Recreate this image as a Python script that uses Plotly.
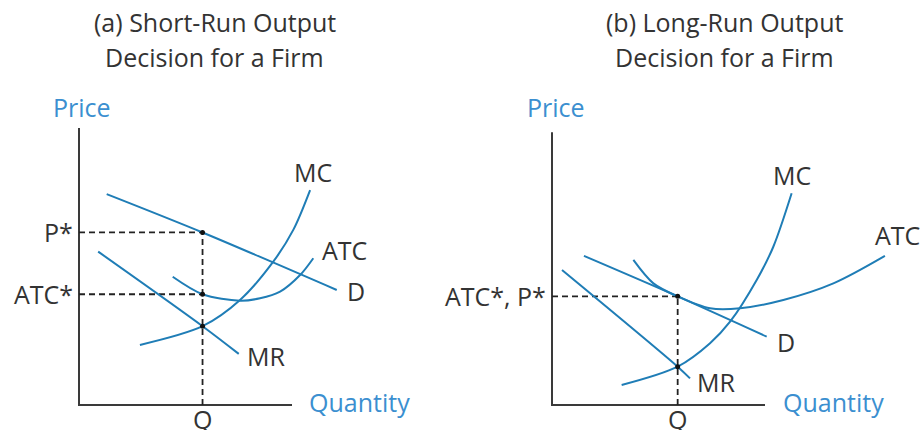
import plotly.graph_objects as go

# ---- Panel (a): short-run output decision ----
a_q = 5.8          # profit-maximising quantity
a_price = 8.1      # P*
a_atc = 5.2        # ATC*
a_mr = 3.7         # MR = MC

a_d_x = [1.3, 5.8, 12.1]
a_d_y = [9.9, 8.1, 5.4]
a_mr_x = [0.9, 5.8, 7.5]
a_mr_y = [7.2, 3.7, 2.4]
a_mc_x = [2.86, 5.8, 7.56, 9.12, 10.06, 10.85]
a_mc_y = [2.82, 3.7, 4.93, 6.73, 8.22, 10.09]
a_atc_x = [4.4, 5.8, 7.56, 8.5, 9.44, 10.38, 11.0]
a_atc_y = [6.02, 5.2, 4.9, 5.01, 5.32, 6.1, 6.89]

# ---- Panel (b): long-run output decision ----
b_q = 5.9
b_price = 5.1      # ATC* = P*
b_mr = 1.8

b_d_x = [1.5, 5.9, 10.08]
b_d_y = [7.0, 5.1, 3.21]
b_mr_x = [0.47, 5.9, 6.48]
b_mr_y = [6.34, 1.8, 1.25]
b_mc_x = [3.27, 5.9, 7.42, 8.36, 9.61, 10.39, 11.25]
b_mc_y = [0.94, 1.8, 2.9, 3.91, 5.87, 7.43, 9.94]
b_atc_x = [3.82, 4.76, 5.9, 7.42, 8.83, 10.86, 13.21, 15.63]
b_atc_y = [6.81, 5.71, 5.1, 4.54, 4.54, 4.93, 5.71, 7.0]

a_axis_len = (10.0, 13.0)
b_axis_len = (10.0, 12.8)

CURVE = "#1f7db6"
AXIS_TXT = "#3b8fd0"
TXT = "#333333"
FONT = "Open Sans"
LBL = 25

fig = go.Figure()


def add_panel(xa, ya, curves, q, dash_levels, dots, axis_len):
    xr, yr = ("x", "y") if xa == "x" else ("x2", "y2")
    # axes
    fig.add_trace(go.Scatter(x=[0, 0, axis_len[0]], y=[axis_len[1], 0, 0],
                             mode="lines", line=dict(color="#3a3a3a", width=2),
                             xaxis=xr, yaxis=yr, hoverinfo="skip"))
    # dashed guides
    top = max(dash_levels)
    guide = dict(color="#222222", width=1.8, dash="6px,4px")
    fig.add_trace(go.Scatter(x=[q, q], y=[0, top], mode="lines", line=guide,
                             xaxis=xr, yaxis=yr, hoverinfo="skip"))
    for lvl in dash_levels:
        fig.add_trace(go.Scatter(x=[0, q], y=[lvl, lvl], mode="lines", line=guide,
                                 xaxis=xr, yaxis=yr, hoverinfo="skip"))
    for cx, cy in curves:
        fig.add_trace(go.Scatter(x=cx, y=cy, mode="lines",
                                 line=dict(color=CURVE, width=2, shape="spline", smoothing=0.9),
                                 xaxis=xr, yaxis=yr, hoverinfo="skip"))
    fig.add_trace(go.Scatter(x=[q] * len(dots), y=dots, mode="markers",
                             marker=dict(color="#111111", size=5),
                             xaxis=xr, yaxis=yr, hoverinfo="skip"))


add_panel("x", "y",
          [(a_d_x, a_d_y), (a_mr_x, a_mr_y), (a_mc_x, a_mc_y), (a_atc_x, a_atc_y)],
          a_q, [a_price, a_atc], [a_price, a_atc, a_mr], a_axis_len)
add_panel("x2", "y2",
          [(b_d_x, b_d_y), (b_mr_x, b_mr_y), (b_mc_x, b_mc_y), (b_atc_x, b_atc_y)],
          b_q, [b_price], [b_price, b_mr], b_axis_len)


def label(text, x, y, xref, yref, color=TXT, xanchor="center", yanchor="middle", size=LBL):
    fig.add_annotation(text=text, x=x, y=y, xref=xref, yref=yref, showarrow=False,
                       xanchor=xanchor, yanchor=yanchor,
                       font=dict(family=FONT, size=size, color=color))


# panel (a) labels
label("Price", 0.14, 14.0, "x", "y", color=AXIS_TXT)
label("Quantity", 10.7, 0.14, "x", "y", color=AXIS_TXT, xanchor="left")
label("Q", a_q, -0.66, "x", "y")
label("P*", -0.2, a_price, "x", "y", xanchor="right")
label("ATC*", -0.2, a_atc, "x", "y", xanchor="right")
label("MC", 11.0, 10.94, "x", "y")
label("ATC", 11.3, 7.28, "x", "y", xanchor="left")
label("D", 12.5, 5.35, "x", "y", xanchor="left")
label("MR", 7.8, 2.3, "x", "y", xanchor="left")

# panel (b) labels
label("Price", 0.19, 14.0, "x2", "y2", color=AXIS_TXT)
label("Quantity", 10.75, 0.14, "x2", "y2", color=AXIS_TXT, xanchor="left")
label("Q", b_q, -0.66, "x2", "y2")
label("ATC*, P*", -0.2, b_price, "x2", "y2", xanchor="right")
label("MC", 11.28, 10.8, "x2", "y2")
label("ATC", 16.2, 7.98, "x2", "y2")
label("D", 10.47, 2.96, "x2", "y2", xanchor="left")
label("MR", 6.7, 1.08, "x2", "y2", xanchor="left")

# panel titles
for cx, lines in [(0.233, ["(a) Short-Run Output", "Decision for a Firm"]),
                  (0.786, ["(b) Long-Run Output", "Decision for a Firm"])]:
    for i, line in enumerate(lines):
        label(line, cx, 1 - (22 + 35 * i) / 430, "paper", "paper")

S = 21.3  # pixels per data unit
fig.update_layout(
    width=922, height=430,
    margin=dict(l=0, r=0, t=0, b=0),
    paper_bgcolor="white", plot_bgcolor="white",
    showlegend=False,
    xaxis=dict(domain=[0, 0.5], range=[-79 / S, (461 - 79) / S], visible=False),
    yaxis=dict(domain=[0, 1], range=[-25 / S, 405 / S], visible=False),
    xaxis2=dict(domain=[0.5, 1], range=[(461 - 552) / S, (922 - 552) / S], visible=False),
    yaxis2=dict(domain=[0, 1], range=[-25 / S, 405 / S], visible=False),
)

fig.write_html("out.html")
